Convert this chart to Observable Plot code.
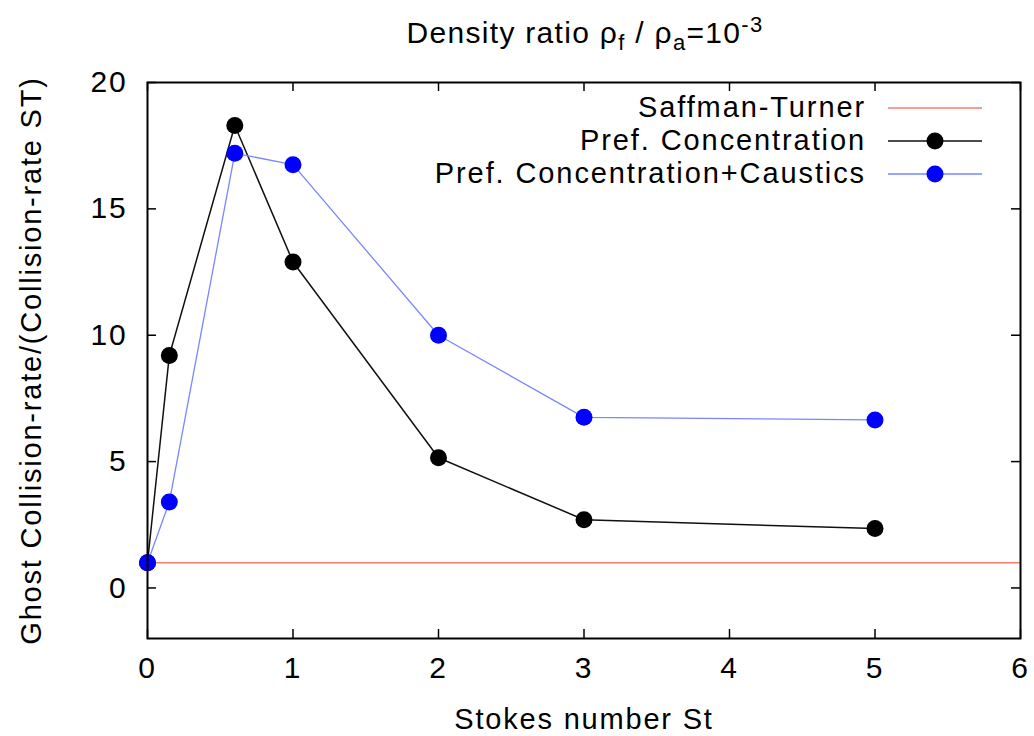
<!DOCTYPE html>
<html>
<head>
<meta charset="utf-8">
<script src="https://cdn.jsdelivr.net/npm/d3@7"></script>
<script src="https://cdn.jsdelivr.net/npm/@observablehq/plot@0.6"></script>
<style>
  html, body { margin: 0; padding: 0; background: #fff; }
  #wrap { position: relative; width: 1034px; height: 736px; font-family: "Liberation Sans", Arial, sans-serif; color: #000; }
  #title { position: absolute; left: 0; width: 1170px; top: 16px; text-align: center; font-size: 30px; line-height: 34px; letter-spacing: 1.3px; white-space: nowrap; }
  #title sub, #title sup { font-size: 22px; line-height: 0; }
  #legend { position: absolute; left: 0; top: 91px; width: 982px; font-size: 29px; letter-spacing: 1.9px; }
  .row { display: flex; align-items: center; justify-content: flex-end; height: 33px; white-space: nowrap; }
  .row svg { margin-left: 22px; flex: none; }
</style>
</head>
<body>
<div id="wrap">
  <div id="title">Density ratio ρ<sub>f</sub> / ρ<sub>a</sub>=10<sup>-3</sup></div>
  <div id="chart"></div>
  <div id="legend"></div>
</div>
<script>
// ---- data ----
const st = [0, 0.15, 0.6, 1, 2, 3, 5];
const prefConc = [1, 9.2, 18.3, 12.9, 5.15, 2.7, 2.35];
const prefConcCaustics = [1, 3.4, 17.2, 16.75, 10.0, 6.75, 6.65];
const saffmanTurner = [1];
const xTicks = [0, 1, 2, 3, 4, 5, 6];
const yTicks = [0, 5, 10, 15, 20];
const xLabel = "Stokes number St";
const yLabel = "Ghost Collision-rate/(Collision-rate ST)";
const seriesNames = ["Saffman-Turner", "Pref. Concentration", "Pref. Concentration+Caustics"];

// ---- styles ----
const cRed = "#f47c70";
const cBlackLine = "#111";
const cBlueLine = "#7a86ff";
const cBlueDot = "#0000ff";

const blackData = st.map((x, i) => ({x, y: prefConc[i]}));
const blueData = st.map((x, i) => ({x, y: prefConcCaustics[i]}));

const W = 1034, H = 736;
const mL = 147, mR = 14, mT = 82, mB = 98;
const fw = W - mL - mR, fh = H - mT - mB;
const tick = 9;

const chart = Plot.plot({
  width: W,
  height: H,
  marginLeft: mL,
  marginRight: mR,
  marginTop: mT,
  marginBottom: mB,
  style: {fontFamily: "Liberation Sans, Arial, sans-serif", fontSize: "30px", letterSpacing: "1.8px", color: "#000", background: "#fff"},
  x: {domain: [0, 6]},
  y: {domain: [-2, 20]},
  marks: [
    Plot.axisX({ticks: xTicks, tickSize: 0, tickPadding: 18, tickFormat: d3.format("d"), label: null, fontSize: 30}),
    Plot.axisY({ticks: yTicks, tickSize: 0, tickPadding: 20, tickFormat: d3.format("d"), label: null, fontSize: 30}),
    // axis titles
    Plot.text([xLabel], {text: d => d, frameAnchor: "bottom", lineAnchor: "middle", textAnchor: "middle", dy: 81, fontSize: 29}),
    Plot.text([yLabel], {text: d => d, frameAnchor: "left", lineAnchor: "middle", textAnchor: "middle", rotate: -90, dx: -116, fontSize: 29}),
    // inward mirrored ticks
    Plot.ruleX(xTicks, {x: d => d, insetTop: fh - tick, stroke: "#000", strokeWidth: 1.5}),
    Plot.ruleX(xTicks, {x: d => d, insetBottom: fh - tick, stroke: "#000", strokeWidth: 1.5}),
    Plot.ruleY(yTicks, {y: d => d, insetRight: fw - tick, stroke: "#000", strokeWidth: 1.5}),
    Plot.ruleY(yTicks, {y: d => d, insetLeft: fw - tick, stroke: "#000", strokeWidth: 1.5}),
    // Saffman-Turner
    Plot.ruleY(saffmanTurner, {y: d => d, stroke: cRed, strokeWidth: 1.4}),
    // Pref. Concentration
    Plot.line(blackData, {x: "x", y: "y", stroke: cBlackLine, strokeWidth: 1.5}),
    Plot.dot(blackData, {x: "x", y: "y", r: 8.5, fill: "#000", stroke: "none"}),
    // Pref. Concentration + Caustics
    Plot.line(blueData, {x: "x", y: "y", stroke: cBlueLine, strokeWidth: 1.3}),
    Plot.dot(blueData, {x: "x", y: "y", r: 8.5, fill: cBlueDot, stroke: "none"}),
    Plot.frame({stroke: "#000", strokeWidth: 2})
  ]
});
document.getElementById("chart").appendChild(chart);

// ---- legend ----
const legend = document.getElementById("legend");
const swatches = [
  {stroke: cRed, dot: null, sw: 1.4},
  {stroke: cBlackLine, dot: "#000", sw: 1.5},
  {stroke: cBlueLine, dot: cBlueDot, sw: 1.3}
];
seriesNames.forEach((name, i) => {
  const row = document.createElement("div");
  row.className = "row";
  const s = swatches[i];
  row.innerHTML = `<span>${name}</span><svg width="94" height="20" viewBox="0 0 94 20">
    <line x1="0" x2="94" y1="10" y2="10" stroke="${s.stroke}" stroke-width="${s.sw}"/>
    ${s.dot ? `<circle cx="47" cy="10" r="8.5" fill="${s.dot}"/>` : ""}
  </svg>`;
  legend.appendChild(row);
});
</script>
</body>
</html>
